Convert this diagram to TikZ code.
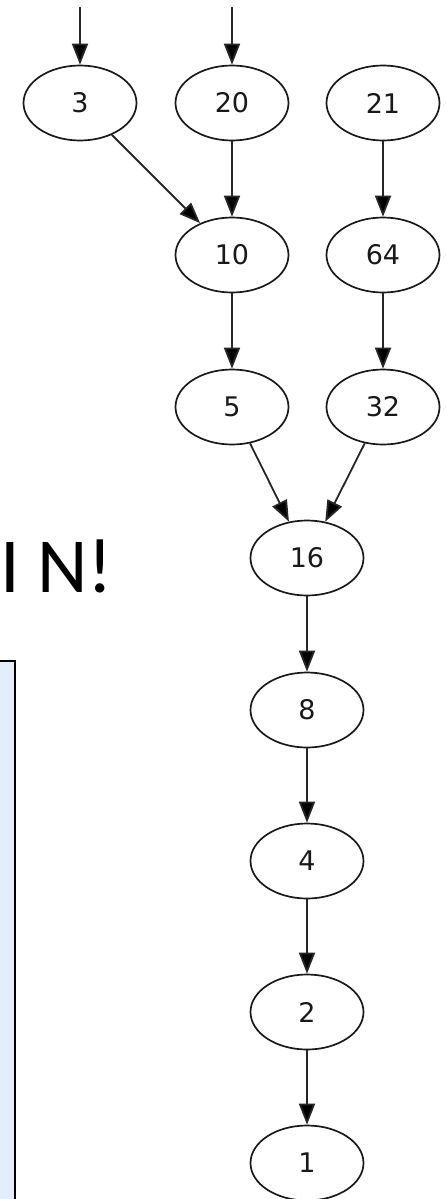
\documentclass[tikz,border=0pt]{standalone}
\usepackage{fontspec}
\usetikzlibrary{shapes.geometric,arrows.meta}
\newfontfamily\dvsans{DejaVu Sans}
\newfontfamily\carl{Carlito}
\definecolor{boxblue}{HTML}{E4EEFB}
\tikzset{
  gnode/.style={ellipse, draw=black!90, line width=1.7pt, minimum width=113pt, minimum height=75pt, inner sep=0pt,
    font={\dvsans\fontsize{27}{27}\selectfont}, text=black!90},
  gedge/.style={-{Triangle[length=21pt,width=16pt,fill=black]}, line width=1.8pt, draw=black!85},
  bigtext/.style={font={\carl\fontsize{78}{78}\selectfont}, inner sep=0pt, anchor=base west}
}
\begin{document}
\begin{tikzpicture}[x=1pt,y=-1pt]
\useasboundingbox (0,0) rectangle (446,1199);
\clip (0,0) rectangle (446,1199);
\fill[white] (0,0) rectangle (446,1199);
% light blue box
\draw[fill=boxblue, line width=2pt] (-10,661) rectangle (15,1220);
% text
\node[bigtext] (txt) at (0,592) {I N!};
% nodes
\node[gnode] (n3) at (80,103) {3};
\node[gnode] (n20) at (232,103) {20};
\node[gnode] (n21) at (383,103) {21};
\node[gnode] (n10) at (232,255) {10};
\node[gnode] (n64) at (383,255) {64};
\node[gnode] (n5) at (232,407) {5};
\node[gnode] (n32) at (383,407) {32};
\node[gnode] (n16) at (307,558) {16};
\node[gnode] (n8) at (307,710) {8};
\node[gnode] (n4) at (307,861) {4};
\node[gnode] (n2) at (307,1012) {2};
\node[gnode] (n1) at (307,1163) {1};
\coordinate (t3) at (80,7);
\coordinate (t20) at (232,7);
% edges
\draw[gedge] (t3) -- (n3);
\draw[gedge] (t20) -- (n20);
\draw[gedge] (n3) -- (n10);
\draw[gedge] (n20) -- (n10);
\draw[gedge] (n21) -- (n64);
\draw[gedge] (n10) -- (n5);
\draw[gedge] (n64) -- (n32);
\draw[gedge] (n5) -- (n16);
\draw[gedge] (n32) -- (n16);
\draw[gedge] (n16) -- (n8);
\draw[gedge] (n8) -- (n4);
\draw[gedge] (n4) -- (n2);
\draw[gedge] (n2) -- (n1);
\end{tikzpicture}
\end{document}
